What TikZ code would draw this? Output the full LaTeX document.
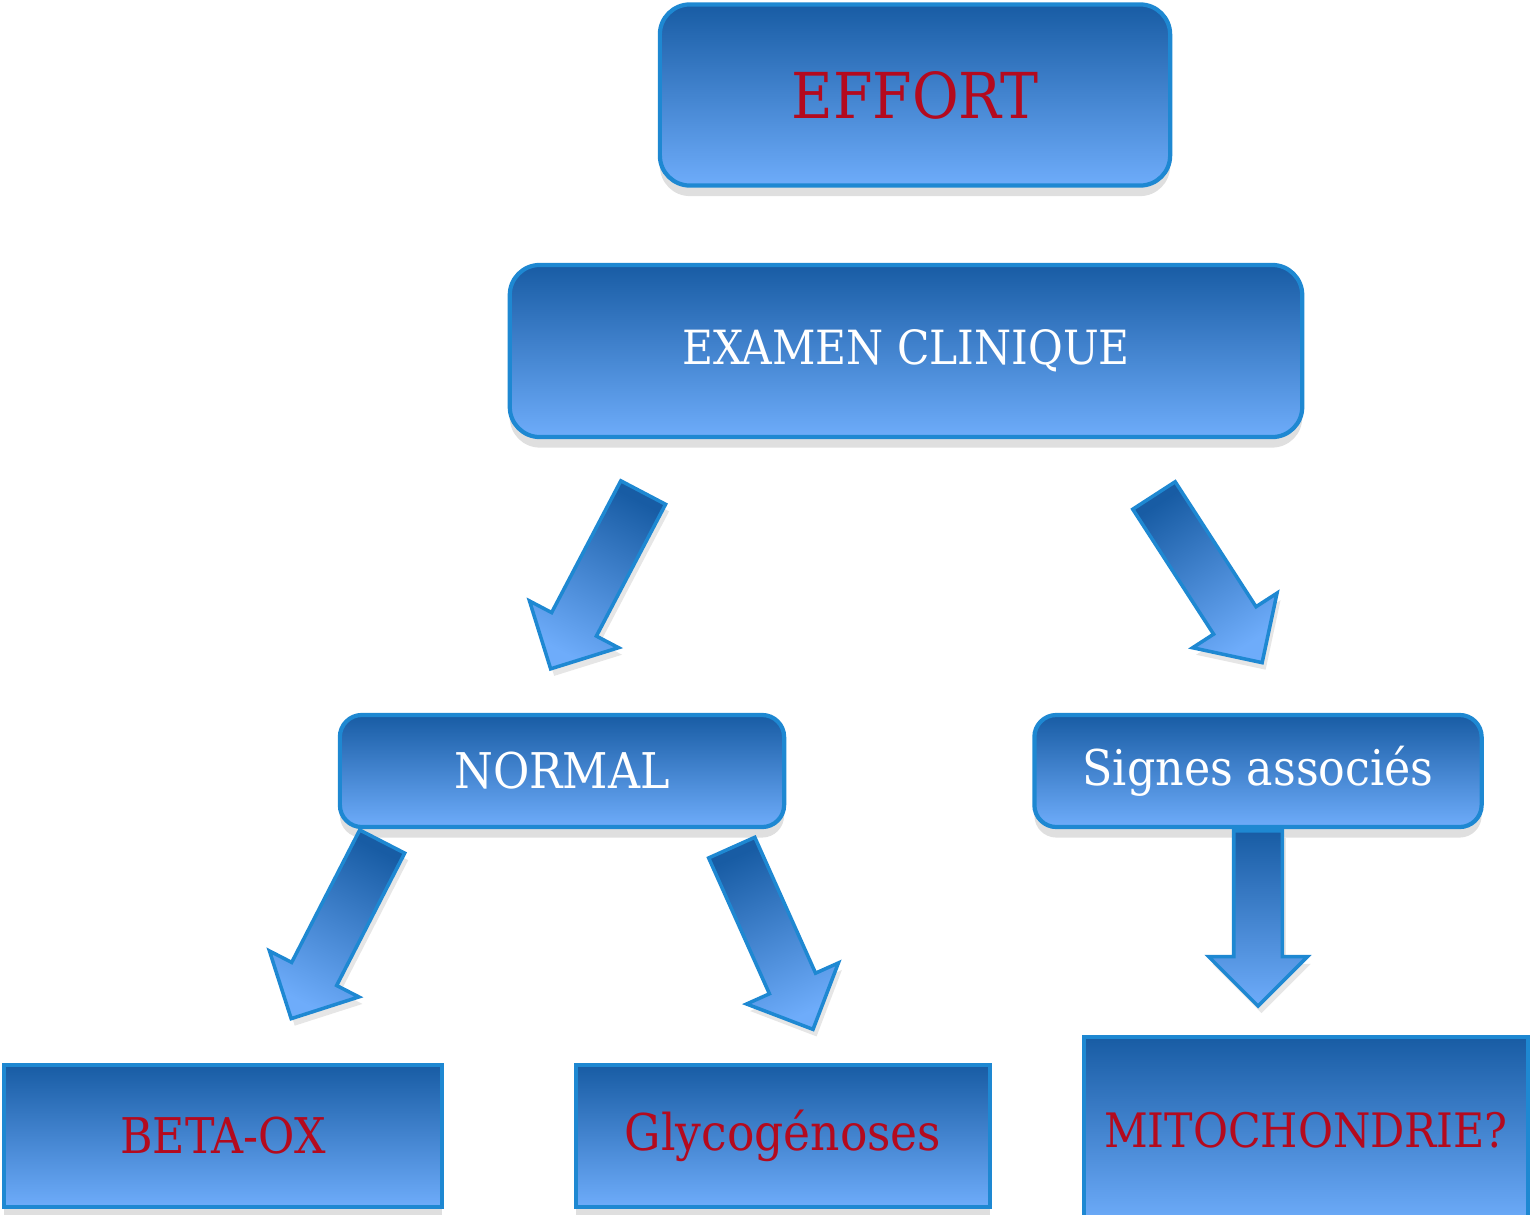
\documentclass[tikz,border=0pt]{standalone}
\usepackage{fontspec}
\setmainfont{DejaVu Serif Condensed}
\usepackage{tikz}
\usetikzlibrary{shapes.arrows}
\usetikzlibrary{shadows}
\usetikzlibrary{positioning}
\definecolor{boxtop}{RGB}{24,92,164}
\definecolor{boxbot}{RGB}{110,172,250}
\definecolor{boxline}{RGB}{30,136,210}
\definecolor{txtred}{RGB}{180,10,30}
\tikzstyle{box}=[draw=boxline,line width=1.2pt,top color=boxtop,bottom color=boxbot,drop shadow={opacity=0.25,shadow xshift=0pt,shadow yshift=-3pt},align=center,font=\fontsize{14}{16}\selectfont]
\tikzstyle{rbox}=[box,rounded corners=0.3cm,text=white]
\tikzstyle{sbox}=[box,text=txtred]
\tikzstyle{bigarrow}=[single arrow,draw=boxline,line width=1pt,top color=boxtop,bottom color=boxbot,drop shadow={opacity=0.2,shadow xshift=1pt,shadow yshift=-2pt},minimum height=1.99cm,single arrow head extend=0.25cm,inner xsep=0pt,inner ysep=0.235cm,anchor=tail]

\begin{document}
\begin{tikzpicture}[x=0.01cm,y=0.01cm]
	\useasboundingbox (0,0) rectangle (1531,1214);
	\node[rbox,text=txtred,minimum width=5.1cm,minimum height=1.81cm,font=\fontsize{18}{20}\selectfont] (effort) at (915,1119) {EFFORT};
	\node[rbox,minimum width=7.92cm,minimum height=1.72cm,font=\fontsize{13.4}{16}\selectfont] (examen) at (906,863) {EXAMEN CLINIQUE};
	\node[rbox,rounded corners=0.22cm,minimum width=4.44cm,minimum height=1.12cm] (normal) at (562,443) {NORMAL};
	\node[rbox,rounded corners=0.22cm,minimum width=4.47cm,minimum height=1.12cm] (signes) at (1258,443) {Signes associés};
	\node[sbox,minimum width=4.38cm,minimum height=1.42cm] (betaox) at (223,78) {BETA-OX};
	\node[sbox,minimum width=4.14cm,minimum height=1.42cm,font=\fontsize{14.4}{16}\selectfont] (glyco) at (783,78) {\raisebox{-2pt}{Glycogénoses}};
	\node[sbox,minimum width=4.44cm,minimum height=1.86cm,font=\fontsize{13.5}{16}\selectfont] (mito) at (1306,84) {MITOCHONDRIE?};
	% fleches
	\node[bigarrow,rotate=242.3,shading angle=332.3] (a1) at (644,723) {};
	\node[bigarrow,rotate=-57.1,shading angle=32.9] (a2) at (1153,720) {};
	\node[bigarrow,rotate=242.8,shading angle=332.8] (a3) at (383,374) {};
	\node[bigarrow,rotate=-65.9,shading angle=24.1] (a4) at (731,368) {};
	\node[bigarrow,rotate=-90,shading angle=0,minimum height=1.75cm,inner ysep=0.225cm] (a5) at (signes.south) {};
\end{tikzpicture}
\end{document}
